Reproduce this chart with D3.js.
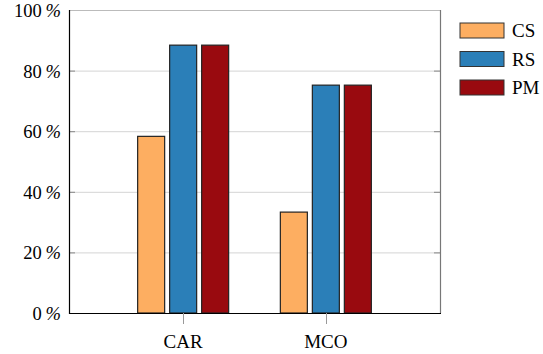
<!DOCTYPE html>
<html>
<head>
<meta charset="utf-8">
<script src="https://cdn.jsdelivr.net/npm/d3@7"></script>
<style>
  html, body { margin: 0; padding: 0; background: #fff; }
  svg { display: block; }
  text { font-family: "Liberation Serif", "Times New Roman", Times, serif; fill: #000; }
</style>
</head>
<body>
<svg id="chart" width="543" height="354"></svg>
<script>
// Categories, series and their percentages
const categories = ["CAR", "MCO"];
const seriesNames = ["CS", "RS", "PM"];
const seriesColors = ["#fdae61", "#2b7fb8", "#990a0f"];
const csValues = [58.3, 33.3];
const rsValues = [88.4, 75.2];
const pmValues = [88.4, 75.2];
const yTicks = [0, 20, 40, 60, 80, 100];

const seriesValues = [csValues, rsValues, pmValues];

const svg = d3.select("#chart");
const plotLeft = 69, plotRight = 440, plotTop = 10, plotBottom = 313;

// x: category index with padding on both sides
const x = d3.scaleLinear().domain([-0.8, 1.8]).range([plotLeft, plotRight]);
const y = d3.scaleLinear().domain([0, 100]).range([plotBottom, plotTop]);

const barOffset = 32, barWidth = 27;

// horizontal grid lines
svg.append("g").selectAll("line").data(yTicks).join("line")
  .attr("x1", plotLeft).attr("x2", plotRight)
  .attr("y1", d => y(d) + 0.5).attr("y2", d => y(d) + 0.5)
  .attr("stroke", "#d4d4d4").attr("stroke-width", 1);

// bars
seriesValues.forEach((vals, si) => {
  svg.append("g").selectAll("rect").data(vals).join("rect")
    .attr("x", (d, i) => x(i) + (si - 1) * barOffset - barWidth / 2)
    .attr("y", d => y(d))
    .attr("width", barWidth)
    .attr("height", d => y(0) - y(d))
    .attr("fill", seriesColors[si])
    .attr("stroke", "#222")
    .attr("stroke-width", 1.2);
});

// y tick marks inside the frame on both sides
const tickG = svg.append("g");
yTicks.forEach(t => {
  tickG.append("line").attr("x1", plotLeft).attr("x2", plotLeft + 6)
    .attr("y1", y(t) + 0.5).attr("y2", y(t) + 0.5)
    .attr("stroke", "#888").attr("stroke-width", 1);
  tickG.append("line").attr("x1", plotRight - 6).attr("x2", plotRight)
    .attr("y1", y(t) + 0.5).attr("y2", y(t) + 0.5)
    .attr("stroke", "#888").attr("stroke-width", 1);
});

// frame
svg.append("line").attr("x1", plotLeft).attr("x2", plotRight).attr("y1", plotTop + 0.5).attr("y2", plotTop + 0.5)
  .attr("stroke", "#bbb");
svg.append("line").attr("x1", plotRight + 0.5).attr("x2", plotRight + 0.5).attr("y1", plotTop).attr("y2", plotBottom)
  .attr("stroke", "#777").attr("stroke-width", 1.2);
svg.append("line").attr("x1", plotLeft + 0.5).attr("x2", plotLeft + 0.5).attr("y1", plotTop).attr("y2", plotBottom + 1)
  .attr("stroke", "#000").attr("stroke-width", 1.2);
svg.append("line").attr("x1", plotLeft).attr("x2", plotRight + 1).attr("y1", plotBottom + 0.5).attr("y2", plotBottom + 0.5)
  .attr("stroke", "#000").attr("stroke-width", 1.2);

// y labels: number upright, percent sign slanted
const yl = svg.append("g").selectAll("text").data(yTicks).join("text")
  .attr("x", 61).attr("y", d => y(d) + 7)
  .attr("text-anchor", "end").attr("font-size", 18.5);
yl.append("tspan").text(d => d + "\u2009");
yl.append("tspan").attr("font-style", "italic").text("%");

// x ticks and labels
const xg = svg.append("g");
categories.forEach((c, i) => {
  xg.append("line").attr("x1", Math.round(x(i)) + 0.5).attr("x2", Math.round(x(i)) + 0.5)
    .attr("y1", plotBottom).attr("y2", plotBottom + 11)
    .attr("stroke", "#999").attr("stroke-width", 1);
  xg.append("text").attr("x", x(i)).attr("y", 348)
    .attr("text-anchor", "middle").attr("font-size", 19).text(c);
});

// legend
const lg = svg.append("g");
seriesNames.forEach((n, i) => {
  const ly = 23 + i * 28.5;
  lg.append("rect").attr("x", 460).attr("y", ly).attr("width", 44).attr("height", 15)
    .attr("fill", seriesColors[i]).attr("stroke", "#333").attr("stroke-width", 1);
  lg.append("text").attr("x", 512).attr("y", ly + 14).attr("font-size", 19).text(n);
});
</script>
</body>
</html>
